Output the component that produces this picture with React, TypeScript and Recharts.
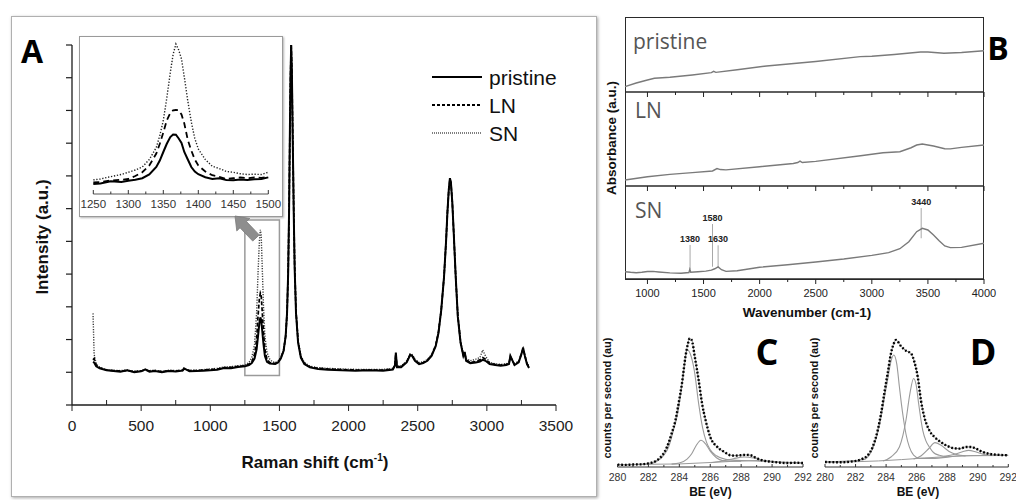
import React from "react";
import { LineChart, Line, XAxis, YAxis, ReferenceArea, ReferenceLine } from "recharts";

const SANS = '"Liberation Sans", Arial, sans-serif';
const ROUND = '"Open Sans", Lato, sans-serif';
const INK = "#1c1c1c";

// ---------- A: Raman spectra (intensity normalised to the G band) ----------
const ramanShift = [
  152, 160, 175, 200, 250, 300, 350, 400, 450, 500,
  530, 560, 600, 650, 700, 750, 800, 810, 850, 900,
  950, 1000, 1050, 1100, 1150, 1200, 1250, 1280, 1300, 1320,
  1335, 1345, 1355, 1362, 1368, 1375, 1385, 1395, 1410, 1430,
  1450, 1470, 1490, 1510, 1530, 1545, 1555, 1563, 1570, 1576,
  1580, 1585, 1590, 1596, 1603, 1610, 1620, 1635, 1655, 1680,
  1720, 1780, 1850, 1950, 2050, 2150, 2250, 2320, 2335, 2342,
  2350, 2380, 2420, 2445, 2460, 2480, 2510, 2540, 2570, 2600,
  2630, 2650, 2670, 2690, 2705, 2715, 2725, 2733, 2740, 2750,
  2760, 2775, 2790, 2810, 2830, 2840, 2850, 2880, 2920, 2950,
  2970, 2990, 3020, 3060, 3100, 3140, 3160, 3170, 3200, 3230,
  3250, 3262, 3275, 3290, 3305,
];
const ramanPristine = [
  1.32, 1.3, 1.18, 1.12, 1.06, 1.04, 1.02, 1.06, 1.0, 1.03,
  1.09, 1.02, 1.04, 1.0, 1.04, 1.02, 1.05, 1.12, 1.03, 1.04,
  1.05, 1.06, 1.08, 1.13, 1.12, 1.16, 1.18, 1.22, 1.28, 1.42,
  1.7, 2.1, 2.5, 2.68, 2.6, 2.3, 1.85, 1.5, 1.32, 1.27,
  1.26, 1.25, 1.3, 1.42, 1.65, 2.1, 2.8, 4.0, 6.0, 8.5,
  10.0, 11.0, 10.2, 8.2, 6.0, 4.2, 2.8, 1.9, 1.45, 1.25,
  1.15, 1.1, 1.08, 1.06, 1.05, 1.06, 1.05, 1.08, 1.2, 1.6,
  1.15, 1.15, 1.3, 1.52, 1.5, 1.35, 1.25, 1.28, 1.35, 1.5,
  1.8, 2.2, 2.9, 3.9, 5.0, 5.9, 6.6, 6.93, 6.8, 6.2,
  5.3, 3.9, 2.7, 1.9, 1.5, 1.62, 1.35, 1.28, 1.3, 1.33,
  1.38, 1.35, 1.25, 1.22, 1.2, 1.22, 1.25, 1.5, 1.22, 1.3,
  1.55, 1.75, 1.5, 1.25, 1.13,
];
const ramanLN = [
  1.38, 1.42, 1.22, 1.14, 1.07, 1.05, 1.04, 1.05, 1.02, 1.04,
  1.07, 1.04, 1.05, 1.02, 1.05, 1.04, 1.06, 1.1, 1.05, 1.05,
  1.07, 1.08, 1.1, 1.14, 1.15, 1.18, 1.2, 1.25, 1.32, 1.55,
  2.0, 2.7, 3.25, 3.42, 3.35, 2.9, 2.2, 1.7, 1.4, 1.3,
  1.27, 1.27, 1.32, 1.44, 1.66, 2.1, 2.8, 4.0, 6.0, 8.5,
  10.0, 11.0, 10.2, 8.3, 6.1, 4.3, 2.85, 1.95, 1.47, 1.27,
  1.17, 1.12, 1.1, 1.08, 1.07, 1.07, 1.07, 1.1, 1.22, 1.58,
  1.17, 1.17, 1.32, 1.54, 1.52, 1.37, 1.27, 1.3, 1.37, 1.52,
  1.82, 2.22, 2.9, 3.9, 5.0, 5.9, 6.6, 6.9, 6.8, 6.2,
  5.3, 3.9, 2.72, 1.92, 1.52, 1.6, 1.38, 1.3, 1.33, 1.38,
  1.45, 1.4, 1.28, 1.24, 1.22, 1.24, 1.27, 1.48, 1.24, 1.32,
  1.57, 1.72, 1.5, 1.27, 1.15,
];
const ramanSN = [
  2.8, 1.55, 1.25, 1.15, 1.08, 1.06, 1.05, 1.07, 1.03, 1.05,
  1.08, 1.05, 1.06, 1.03, 1.06, 1.05, 1.07, 1.1, 1.06, 1.06,
  1.08, 1.1, 1.12, 1.16, 1.17, 1.2, 1.22, 1.3, 1.45, 1.85,
  2.8, 4.0, 5.0, 5.35, 5.2, 4.3, 3.0, 2.1, 1.6, 1.4,
  1.32, 1.3, 1.34, 1.46, 1.68, 2.12, 2.82, 4.0, 6.0, 8.5,
  10.0, 11.0, 10.2, 8.3, 6.1, 4.3, 2.88, 1.98, 1.5, 1.3,
  1.19, 1.14, 1.12, 1.1, 1.09, 1.09, 1.09, 1.12, 1.24, 1.56,
  1.19, 1.19, 1.34, 1.56, 1.54, 1.4, 1.3, 1.32, 1.39, 1.54,
  1.84, 2.24, 2.92, 3.9, 5.0, 5.9, 6.6, 6.88, 6.78, 6.2,
  5.3, 3.92, 2.75, 1.95, 1.55, 1.58, 1.42, 1.35, 1.4, 1.45,
  1.68, 1.5, 1.3, 1.26, 1.24, 1.26, 1.29, 1.46, 1.26, 1.34,
  1.58, 1.7, 1.52, 1.29, 1.17,
];
const ramanTicks = [0, 250, 500, 750, 1000, 1250, 1500, 1750, 2000, 2250, 2500, 2750, 3000, 3250, 3500];
const intensityTicks = [0, 1, 2, 3, 4, 5, 6, 7, 8, 9, 10, 11];

// inset: D band, 1250-1500 cm-1
const insetShift = [
  1250, 1260, 1275, 1290, 1300, 1310, 1320, 1330, 1340, 1345,
  1350, 1355, 1360, 1364, 1368, 1372, 1376, 1380, 1385, 1390,
  1395, 1400, 1410, 1420, 1430, 1440, 1450, 1460, 1470, 1480,
  1490, 1500,
];
const insetPristine = [
  0.67, 0.7, 0.85, 0.8, 0.89, 0.95, 1.05, 1.3, 1.8, 2.23,
  2.8, 3.35, 3.8, 3.97, 3.95, 3.7, 3.4, 2.8, 2.3, 1.8,
  1.5, 1.32, 1.12, 1.0, 1.05, 0.94, 0.92, 0.96, 0.94, 0.98,
  1.0, 1.11,
];
const insetLN = [
  0.78, 0.8, 0.9, 0.95, 1.0, 1.2, 1.45, 1.9, 2.7, 3.35,
  4.1, 4.91, 5.4, 5.58, 5.6, 5.58, 5.3, 4.7, 3.6, 2.9,
  2.3, 1.9, 1.5, 1.25, 1.15, 1.0, 1.05, 1.1, 1.05, 1.1,
  1.08, 1.14,
];
const insetSN = [
  0.94, 1.0, 1.16, 1.3, 1.45, 1.6, 1.8, 2.3, 3.1, 3.9,
  4.9, 6.4, 8.1, 9.3, 10, 9.6, 9.0, 7.8, 6.2, 4.8,
  3.7, 3.0, 2.3, 1.85, 1.7, 1.5, 1.45, 1.35, 1.3, 1.32,
  1.3, 1.45,
];
const insetTicks = [1250, 1275, 1300, 1325, 1350, 1375, 1400, 1425, 1450, 1475, 1500];

const ramanSeries = [
  { key: "SN", label: "SN", color: "#3a3a3a", width: 1.4, dash: "1.2 1.4" },
  { key: "LN", label: "LN", color: "#000", width: 1.7, dash: "4 2" },
  { key: "pristine", label: "pristine", color: "#000", width: 2, dash: undefined as string | undefined },
];

// ---------- B: FTIR absorbance, one strip per sample ----------
const irPristineWn = [800, 900, 1000, 1062, 1200, 1400, 1570, 1590, 1610, 1800, 2062, 2500, 2897, 3000, 3200, 3434, 3500, 3643, 3800, 4000];
const irPristineAbs = [0.71, 1.2, 1.6, 1.83, 1.96, 2.27, 2.58, 2.75, 2.62, 2.96, 3.47, 4.07, 4.71, 4.76, 5.0, 5.33, 5.33, 5.16, 5.27, 5.5];
const irLNWn = [800, 1000, 1200, 1400, 1580, 1620, 1650, 1700, 2000, 2300, 2340, 2360, 2380, 2500, 2900, 3100, 3250, 3350, 3400, 3450, 3550, 3650, 3700, 3800, 4000];
const irLNAbs = [0.64, 0.99, 1.24, 1.42, 1.6, 1.85, 1.75, 1.72, 2.05, 2.4, 2.5, 2.65, 2.5, 2.62, 3.22, 3.54, 3.65, 4.07, 4.36, 4.47, 4.26, 3.97, 3.95, 4.11, 4.36];
const irSNWn = [
  800, 850, 900, 950, 1000, 1050, 1100, 1200, 1300, 1370,
  1378, 1386, 1450, 1520, 1570, 1600, 1630, 1660, 1700, 1800,
  2000, 2250, 2500, 2750, 3000, 3150, 3250, 3330, 3400, 3450,
  3500, 3550, 3600, 3650, 3700, 3800, 4000,
];
const irSNAbs = [
  0.78, 0.72, 0.68, 0.72, 0.8, 0.82, 0.76, 0.66, 0.62, 0.7,
  1.05, 0.72, 0.78, 0.85, 0.95, 1.1, 1.3, 1.0, 0.82, 0.89,
  1.26, 1.54, 1.83, 2.15, 2.54, 2.83, 3.26, 4.01, 5.09, 5.45,
  5.27, 4.73, 4.12, 3.55, 3.37, 3.4, 3.84,
];
const irTicks = [1000, 1250, 1500, 1750, 2000, 2250, 2500, 2750, 3000, 3250, 3500, 3750, 4000];
const irPeakLabels = ["1380", "1580", "1630", "3440"];
const irPeakWn = [1380, 1580, 1630, 3440];

// ---------- C, D: XPS C1s ----------
const xpsTicks = [280, 281, 282, 283, 284, 285, 286, 287, 288, 289, 290, 291, 292];

const cEnvBE = [280, 280.5, 281, 281.5, 282, 282.3, 282.55, 282.9, 283.2, 283.5, 283.75, 283.95, 284.17, 284.4, 284.55, 284.67, 284.8, 285.0, 285.25, 285.47, 285.7, 286.0, 286.45, 286.9, 287.3, 287.6, 287.95, 288.3, 288.6, 288.93, 289.36, 289.8, 290.1, 291.0, 291.5, 292.0];
const cEnv = [1.8, 1.6, 1.9, 2.0, 2.8, 3.6, 5.1, 8.9, 15.2, 25.3, 35.4, 48.1, 63.3, 84, 93, 97.5, 96.2, 83.5, 65.8, 48.1, 35.4, 22.8, 15.2, 11.4, 8.9, 8.6, 8.9, 9.2, 8.9, 7.1, 5.1, 4.2, 3.8, 3.0, 3.2, 3.0];
const cSp2BE = [280, 282, 282.5, 283, 283.3, 283.6, 283.9, 284.1, 284.3, 284.5, 284.7, 284.97, 285.25, 285.5, 285.75, 286.0, 286.4, 287.0, 288, 289, 290, 292];
const cSp2 = [1.8, 2.2, 4.0, 9, 15, 27, 41, 56, 74, 89, 86, 73, 48, 30, 19, 13, 8.5, 5.8, 4.8, 4.6, 4.0, 3.2];
const cCOBE = [283.5, 284.0, 284.5, 284.8, 285.1, 285.4, 285.7, 286.0, 286.4, 286.8, 287.3, 288];
const cCO = [2.2, 3.0, 6, 10, 16.5, 20.3, 17.5, 12, 7, 4.8, 4.3, 4.4];
const cCOOBE = [286.0, 286.8, 287.5, 288.2, 288.8, 289.4, 290.2];
const cCOO = [3.2, 4.5, 6.3, 7.6, 6.8, 5.0, 4.0];
const cBgBE = [280, 284, 286, 288, 289.2, 290.5, 292];
const cBg = [1.8, 2.3, 3.4, 4.6, 4.9, 3.6, 3.0];

const dEnvBE = [280, 281, 282.03, 282.47, 282.8, 283.12, 283.45, 283.67, 283.88, 284.1, 284.32, 284.47, 284.65, 284.97, 285.3, 285.63, 285.85, 286.07, 286.28, 286.5, 286.83, 287.16, 287.48, 287.92, 288.36, 288.8, 289.23, 289.56, 289.88, 290.32, 290.97, 292];
const dEnv = [3.8, 3.6, 4.6, 6.3, 8.9, 15.2, 27.8, 40.5, 55.7, 70.9, 86.1, 92.4, 96.2, 91.6, 88.1, 86.1, 79.7, 68.4, 50.6, 38, 27.8, 22.8, 19.7, 16.5, 14.4, 13.9, 15.2, 15.2, 13.9, 11.4, 9.6, 8.9];
const dSp2BE = [280, 282.5, 283.0, 283.45, 283.67, 283.88, 284.1, 284.3, 284.5, 284.7, 284.87, 285.0, 285.15, 285.3, 285.52, 285.8, 286.2, 287, 289, 292];
const dSp2 = [3.8, 5.5, 11, 26, 38, 52, 66, 79, 84.8, 78, 60.8, 48, 35.4, 25, 15.2, 9, 6.5, 6.5, 8.5, 8.8];
const dCOBE = [283.8, 284.32, 284.87, 285.1, 285.3, 285.55, 285.8, 285.97, 286.13, 286.4, 286.6, 286.83, 287.1, 287.48, 288];
const dCO = [4.5, 7.6, 15.2, 24, 35.4, 55, 67.1, 62, 48.1, 27.8, 20, 15.2, 11, 8.9, 7.8];
const dCOBE2 = [285.8, 286.3, 286.8, 287.2, 287.6, 288.1, 288.6, 289.2];
const dCO2 = [6.0, 8.5, 14, 18.5, 16.5, 12, 9.5, 8.4];
const dCOOBE = [287.8, 288.5, 289.0, 289.4, 289.9, 290.5, 291.2];
const dCOO = [8.1, 9.6, 11.5, 12.6, 11.4, 9.3, 8.8];
const dBgBE = [280, 282, 283.5, 285, 286.5, 288, 289.5, 291, 292];
const dBg = [3.8, 4.0, 4.6, 5.6, 6.8, 7.9, 8.6, 8.8, 8.8];

const zip = (xs: number[], ys: number[]) => xs.map((x, i) => ({ x, y: ys[i] }));

// ---------- helpers ----------
type TickStyle = {
  every: number;
  majorLen: number;
  minorLen: number;
  majorDir: number;
  minorDir: number;
  labels: boolean;
  fontSize: number;
  gap: number;
  color: string;
};

// tickSize/tickMargin are 0, so (x, y) is the point on the axis line itself
function bottomTick(st: TickStyle) {
  return (props: any) => {
    const { x, y, payload } = props;
    const v = Number(payload.value);
    const major = Math.abs(v / st.every - Math.round(v / st.every)) < 1e-6;
    const len = major ? st.majorLen : st.minorLen;
    const dir = major ? st.majorDir : st.minorDir;
    return (
      <g>
        <line x1={x} x2={x} y1={y} y2={y + dir * len} stroke={st.color} strokeWidth={1} />
        {major && st.labels ? (
          <text
            x={x}
            y={y + st.gap}
            textAnchor="middle"
            dominantBaseline="central"
            fontSize={st.fontSize}
            fontFamily={SANS}
            fill={st.color}
          >
            {v}
          </text>
        ) : null}
      </g>
    );
  };
}

function leftTick(props: any) {
  const { x, y } = props;
  return <line x1={x} x2={x - 6} y1={y} y2={y} stroke={INK} strokeWidth={1.2} />;
}

function Caption({
  x,
  y,
  size,
  bold,
  color = "#111",
  family = SANS,
  rotate,
  anchor = "middle",
  children,
}: {
  x: number;
  y: number;
  size: number;
  bold?: boolean;
  color?: string;
  family?: string;
  rotate?: boolean;
  anchor?: "start" | "middle";
  children: React.ReactNode;
}) {
  const tx = anchor === "start" ? "0" : "-50%";
  return (
    <div
      style={{
        position: "absolute",
        left: x,
        top: y,
        transform: `translate(${tx}, -50%)${rotate ? " rotate(-90deg)" : ""}`,
        fontSize: size,
        fontWeight: bold ? 700 : 400,
        color,
        fontFamily: family,
        lineHeight: 1,
        whiteSpace: "nowrap",
      }}
    >
      {children}
    </div>
  );
}

// ---------- panel A ----------
function RamanPanel() {
  const data = ramanShift.map((s, i) => ({
    shift: s,
    pristine: ramanPristine[i],
    LN: ramanLN[i],
    SN: ramanSN[i],
  }));
  return (
    <div style={{ position: "absolute", left: 0, top: 0 }}>
      <LineChart width={600} height={500} data={data} margin={{ top: 45, right: 44, left: 0, bottom: 0 }}>
        <XAxis
          dataKey="shift"
          type="number"
          domain={[0, 3500]}
          ticks={ramanTicks}
          interval={0}
          height={95}
          tickSize={0}
          tickMargin={0}
          tickLine={false}
          axisLine={{ stroke: INK, strokeWidth: 1.3 }}
          tick={bottomTick({
            every: 500,
            majorLen: 6,
            minorLen: 5,
            majorDir: 1,
            minorDir: -1,
            labels: true,
            fontSize: 15.5,
            gap: 20,
            color: "#222",
          })}
        />
        <YAxis
          type="number"
          domain={[0, 11]}
          ticks={intensityTicks}
          interval={0}
          width={72}
          tickSize={0}
          tickMargin={0}
          tickLine={false}
          axisLine={{ stroke: INK, strokeWidth: 1.3 }}
          tick={leftTick}
        />
        <ReferenceArea x1={1250} x2={1500} y1={0.9} y2={5.65} fill="none" stroke="#9a9a9a" strokeWidth={1.5} />
        {ramanSeries.map((s) => (
          <Line
            key={s.key}
            type="linear"
            dataKey={s.key}
            stroke={s.color}
            strokeWidth={s.width}
            strokeDasharray={s.dash}
            dot={false}
            isAnimationActive={false}
          />
        ))}
      </LineChart>
    </div>
  );
}

function RamanInset() {
  const data = insetShift.map((s, i) => ({
    shift: s,
    pristine: insetPristine[i],
    LN: insetLN[i],
    SN: insetSN[i],
  }));
  return (
    <>
      <div
        style={{
          position: "absolute",
          left: 79,
          top: 36,
          width: 204,
          height: 181,
          boxSizing: "border-box",
          border: "1.5px solid #9a9a9a",
          background: "#fff",
          boxShadow: "1px 1px 2px rgba(0,0,0,0.3)",
        }}
      />
      <div style={{ position: "absolute", left: 79, top: 36 }}>
        <LineChart width={204} height={181} data={data} margin={{ top: 8, right: 14.7, left: 14.3, bottom: 0 }}>
          <XAxis
            dataKey="shift"
            type="number"
            domain={[1250, 1500]}
            ticks={insetTicks}
            interval={0}
            height={23}
            tickSize={0}
            tickMargin={0}
            tickLine={false}
            axisLine={{ stroke: "#555", strokeWidth: 1 }}
            tick={bottomTick({
              every: 50,
              majorLen: 4,
              minorLen: 2.5,
              majorDir: -1,
              minorDir: -1,
              labels: true,
              fontSize: 11.5,
              gap: 10,
              color: "#333",
            })}
          />
          <YAxis hide type="number" domain={[0, 10]} />
          <Line type="linear" dataKey="SN" stroke="#222" strokeWidth={1.4} strokeDasharray="1.3 1.7" dot={false} isAnimationActive={false} />
          <Line type="linear" dataKey="LN" stroke="#000" strokeWidth={1.8} strokeDasharray="6 4" dot={false} isAnimationActive={false} />
          <Line type="linear" dataKey="pristine" stroke="#000" strokeWidth={2} dot={false} isAnimationActive={false} />
        </LineChart>
      </div>
    </>
  );
}

function ZoomArrow() {
  const tail = { x: 256, y: 238 };
  const tip = { x: 235, y: 216 };
  const dx = tip.x - tail.x;
  const dy = tip.y - tail.y;
  const len = Math.hypot(dx, dy);
  const ux = dx / len;
  const uy = dy / len;
  const nx = -uy;
  const ny = ux;
  const neck = { x: tip.x - ux * 12, y: tip.y - uy * 12 };
  const pts = [
    [tail.x + nx * 4.5, tail.y + ny * 4.5],
    [neck.x + nx * 4.5, neck.y + ny * 4.5],
    [neck.x + nx * 9, neck.y + ny * 9],
    [tip.x, tip.y],
    [neck.x - nx * 9, neck.y - ny * 9],
    [neck.x - nx * 4.5, neck.y - ny * 4.5],
    [tail.x - nx * 4.5, tail.y - ny * 4.5],
  ]
    .map((p) => p.join(","))
    .join(" ");
  return (
    <svg width={600} height={500} style={{ position: "absolute", left: 0, top: 0, pointerEvents: "none" }}>
      <polygon points={pts} fill="#8e8e8e" stroke="#7a7a7a" strokeWidth={0.8} />
    </svg>
  );
}

function RamanLegend() {
  const rows = [
    { label: "pristine", dash: undefined as string | undefined, color: "#000", width: 2, y: 77 },
    { label: "LN", dash: "3 2", color: "#000", width: 1.8, y: 105 },
    { label: "SN", dash: "1 1", color: "#555", width: 1.6, y: 133 },
  ];
  return (
    <>
      <svg width={600} height={500} style={{ position: "absolute", left: 0, top: 0, pointerEvents: "none" }}>
        {rows.map((r) => (
          <line key={r.label} x1={432} x2={482} y1={r.y} y2={r.y} stroke={r.color} strokeWidth={r.width} strokeDasharray={r.dash} />
        ))}
      </svg>
      {rows.map((r) => (
        <Caption key={r.label} x={489} y={r.y} size={21} anchor="start" color="#111">
          {r.label}
        </Caption>
      ))}
    </>
  );
}

// ---------- panel B ----------
function IrStrip({
  top,
  plotHeight,
  axisHeight,
  wn,
  abs,
  labels,
  peaks,
}: {
  top: number;
  plotHeight: number;
  axisHeight: number;
  wn: number[];
  abs: number[];
  labels: boolean;
  peaks?: boolean;
}) {
  const data = zip(wn, abs);
  // vertical extent of the marker lines in the SN strip
  const peakSpan = [
    [1.08, 3.66],
    [1.32, 5.91],
    [1.26, 3.62],
    [4.38, 7.63],
  ];
  return (
    <div style={{ position: "absolute", left: 600, top }}>
      <LineChart width={416} height={1 + plotHeight + axisHeight} data={data} margin={{ top: 1, right: 32, left: 25, bottom: 0 }}>
        <XAxis
          dataKey="x"
          type="number"
          domain={[800, 4000]}
          ticks={irTicks}
          interval={0}
          height={axisHeight}
          tickSize={0}
          tickMargin={0}
          tickLine={false}
          axisLine={{ stroke: "#2a2a2a", strokeWidth: 1.5 }}
          tick={bottomTick({
            every: 500,
            majorLen: 5,
            minorLen: 3,
            majorDir: 1,
            minorDir: 1,
            labels,
            fontSize: 11,
            gap: 14,
            color: "#222",
          })}
        />
        <YAxis hide type="number" domain={[0, 10]} />
        {peaks
          ? irPeakWn.map((w, i) => (
              <ReferenceLine
                key={w}
                segment={[
                  { x: w, y: peakSpan[i][0] },
                  { x: w, y: peakSpan[i][1] },
                ]}
                stroke="#a8a8a8"
                strokeWidth={1}
                label={{
                  value: irPeakLabels[i],
                  position: "top",
                  offset: 3,
                  fontSize: 9,
                  fontWeight: 700,
                  fill: "#222",
                  fontFamily: SANS,
                }}
              />
            ))
          : null}
        <Line type="linear" dataKey="y" stroke="#7a7a7a" strokeWidth={1.4} dot={false} isAnimationActive={false} />
      </LineChart>
    </div>
  );
}

function IrPanel() {
  return (
    <>
      <div
        style={{
          position: "absolute",
          left: 625,
          top: 17,
          width: 359,
          height: 263,
          boxSizing: "border-box",
          border: "1.5px solid #2a2a2a",
        }}
      />
      <IrStrip top={16} plotHeight={75} axisHeight={8} wn={irPristineWn} abs={irPristineAbs} labels={false} />
      <IrStrip top={91} plotHeight={94} axisHeight={8} wn={irLNWn} abs={irLNAbs} labels={false} />
      <IrStrip top={185} plotHeight={93} axisHeight={40} wn={irSNWn} abs={irSNAbs} labels peaks />
      <Caption x={633} y={41} size={21} anchor="start" color="#555" family={ROUND}>
        pristine
      </Caption>
      <Caption x={635} y={110} size={21} anchor="start" color="#555" family={ROUND}>
        LN
      </Caption>
      <Caption x={635} y={210} size={21} anchor="start" color="#555" family={ROUND}>
        SN
      </Caption>
      <Caption x={612} y={138} size={13.5} bold rotate>
        Absorbance (a.u.)
      </Caption>
      <Caption x={807} y={313} size={13.5} bold>
        Wavenumber (cm-1)
      </Caption>
      <Caption x={998} y={48} size={32} bold family={ROUND} color="#000">
        B
      </Caption>
    </>
  );
}

// ---------- panels C, D ----------
function XpsPanel({
  left,
  width,
  marginLeft,
  marginRight,
  env,
  fits,
  bg,
  letter,
  letterX,
}: {
  left: number;
  width: number;
  marginLeft: number;
  marginRight: number;
  env: { x: number; y: number }[];
  fits: { x: number; y: number }[][];
  bg: { x: number; y: number }[];
  letter: string;
  letterX: number;
}) {
  return (
    <>
      <div style={{ position: "absolute", left, top: 320 }}>
        <LineChart width={width} height={180} margin={{ top: 15, right: marginRight, left: marginLeft, bottom: 0 }}>
          <XAxis
            dataKey="x"
            type="number"
            domain={[280, 292]}
            ticks={xpsTicks}
            interval={0}
            height={33}
            tickSize={0}
            tickMargin={0}
            tickLine={false}
            axisLine={{ stroke: "#333", strokeWidth: 1.2 }}
            allowDataOverflow
            tick={bottomTick({
              every: 2,
              majorLen: 3,
              minorLen: 2,
              majorDir: -1,
              minorDir: -1,
              labels: true,
              fontSize: 10.5,
              gap: 10,
              color: "#333",
            })}
          />
          <YAxis type="number" domain={[0, 100]} width={0} tick={false} tickLine={false} axisLine={{ stroke: "#999", strokeWidth: 1 }} />
          <Line data={bg} type="linear" dataKey="y" stroke="#9a9a9a" strokeWidth={1} dot={false} isAnimationActive={false} />
          {fits.map((f, i) => (
            <Line key={i} data={f} type="monotone" dataKey="y" stroke="#9a9a9a" strokeWidth={1.1} dot={false} isAnimationActive={false} />
          ))}
          <Line data={env} type="monotone" dataKey="y" stroke="#8a8a8a" strokeWidth={1} dot={false} isAnimationActive={false} />
          <Line data={env} type="monotone" dataKey="y" stroke="#000" strokeWidth={2.4} strokeDasharray="1.8 1.9" dot={false} isAnimationActive={false} />
        </LineChart>
      </div>
      <Caption x={left + marginLeft - 11} y={398} size={11} bold rotate>
        counts per second (au)
      </Caption>
      <Caption x={left + marginLeft + 93} y={492} size={12} bold>
        BE (eV)
      </Caption>
      <Caption x={letterX} y={352} size={36} bold family={ROUND} color="#000">
        {letter}
      </Caption>
    </>
  );
}

export default function App() {
  return (
    <div
      style={{
        position: "absolute",
        left: 0,
        top: 0,
        width: 1016,
        height: 500,
        overflow: "hidden",
        background: "#fff",
        fontFamily: SANS,
      }}
    >
      <div
        style={{
          position: "absolute",
          left: 11,
          top: 16,
          width: 584,
          height: 479,
          border: "1px solid #b0b0b0",
          boxShadow: "1px 1px 3px rgba(0,0,0,0.35)",
        }}
      />
      <RamanPanel />
      <RamanInset />
      <ZoomArrow />
      <RamanLegend />
      <Caption x={32} y={51} size={32} bold family={ROUND} color="#000">
        A
      </Caption>
      <Caption x={42} y={237} size={17} bold rotate>
        Intensity (a.u.)
      </Caption>
      <Caption x={315} y={462} size={17} bold>
        Raman shift (cm<sup style={{ fontSize: 10 }}>-1</sup>)
      </Caption>

      <IrPanel />

      <XpsPanel
        left={600}
        width={218}
        marginLeft={17.5}
        marginRight={15}
        env={zip(cEnvBE, cEnv)}
        fits={[zip(cSp2BE, cSp2), zip(cCOBE, cCO), zip(cCOOBE, cCOO)]}
        bg={zip(cBgBE, cBg)}
        letter="C"
        letterX={767}
      />
      <XpsPanel
        left={806}
        width={210}
        marginLeft={19}
        marginRight={7.7}
        env={zip(dEnvBE, dEnv)}
        fits={[zip(dSp2BE, dSp2), zip(dCOBE, dCO), zip(dCOBE2, dCO2), zip(dCOOBE, dCOO)]}
        bg={zip(dBgBE, dBg)}
        letter="D"
        letterX={983}
      />
    </div>
  );
}
